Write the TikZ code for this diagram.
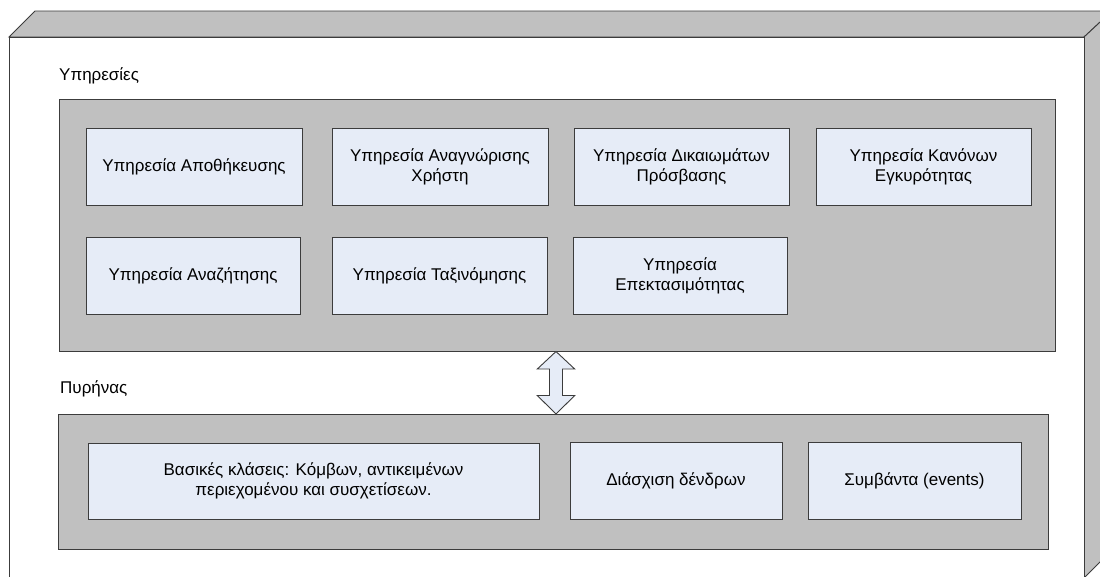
\documentclass[tikz,border=0pt]{standalone}
\usepackage{fontspec}
\setmainfont{Liberation Sans}
\usetikzlibrary{calc}
\definecolor{panelgray}{HTML}{C0C0C0}
\definecolor{boxblue}{HTML}{E6ECF7}
\definecolor{edge}{HTML}{3C3C3C}
\tikzset{
  face/.style={draw=edge, line width=0.9pt, fill=panelgray, line join=miter},
  panel/.style={draw=edge, line width=0.9pt, fill=panelgray, anchor=north west, inner sep=0pt, outer sep=0pt},
  svc/.style={draw=edge, line width=0.9pt, fill=boxblue, anchor=north west, inner sep=0pt, outer sep=0pt,
    align=center, font=\fontsize{17}{20}\selectfont, text=black},
  caption/.style={anchor=base west, inner sep=0pt, font=\fontsize{17}{20}\selectfont},
  dblarrow/.style={draw=edge, line width=0.9pt, fill=boxblue, line join=miter}
}
\begin{document}
\begin{tikzpicture}[x=1pt,y=-1pt]
\useasboundingbox (0,0) rectangle (1100,576);
\begin{scope}
\clip (0,0) rectangle (1100,576);
% 3D frame
\draw[face] (9,37) -- (35,11) -- (1112,11) -- (1084,37) -- cycle;
\draw[face] (1084,37) -- (1112,11) -- (1112,550) -- (1084,578) -- cycle;
\draw[draw=edge, line width=0.9pt, fill=white] (9,37) rectangle (1084,578);
\end{scope}

\node[caption] (lblsvc) at (59,80) {Υπηρεσίες};
\node[caption] (lblcore) at (60,393) {Πυρήνας};

\node[panel, minimum width=996pt, minimum height=252pt] (srv) at (59,99.5) {};
\node[panel, minimum width=990pt, minimum height=135pt] (core) at (58,414) {};

% services
\node[svc, minimum width=216pt, minimum height=77pt] (s1) at (86,128) {Υπηρεσία Αποθήκευσης};
\node[svc, minimum width=216pt, minimum height=77pt] (s2) at (332,128) {Υπηρεσία Αναγνώρισης\\Χρήστη};
\node[svc, minimum width=215pt, minimum height=77pt] (s3) at (574,128) {Υπηρεσία Δικαιωμάτων\\Πρόσβασης};
\node[svc, minimum width=215pt, minimum height=77pt] (s4) at (816,128) {Υπηρεσία Κανόνων\\Εγκυρότητας};
\node[svc, minimum width=214pt, minimum height=77pt] (s5) at (86,237) {Υπηρεσία Αναζήτησης};
\node[svc, minimum width=215pt, minimum height=77pt] (s6) at (332,237) {Υπηρεσία Ταξινόμησης};
\node[svc, minimum width=214pt, minimum height=77pt] (s7) at (573,237) {Υπηρεσία\\Επεκτασιμότητας};

% core
\node[svc, minimum width=451pt, minimum height=76pt] (c1) at (88,443) {Βασικές κλάσεις: Κόμβων, αντικειμένων\\περιεχομένου και συσχετίσεων.};
\node[svc, minimum width=212pt, minimum height=77pt] (c2) at (570,442) {Διάσχιση δένδρων};
\node[svc, minimum width=213pt, minimum height=77pt] (c3) at (808,442) {Συμβάντα (events)};

% double arrow between panels
\coordinate (atop) at (srv.south -| 556,0);
\coordinate (abot) at (core.north -| 556,0);
\draw[dblarrow] (atop) -- ++(18.7,17.5) -- ++(-12.2,0) -- ($(abot)+(6.5,-18.5)$) -- ++(12.2,0)
  -- (abot) -- ++(-18.7,-18.5) -- ++(12.2,0) -- ($(atop)+(-6.5,17.5)$) -- ++(-12.2,0) -- cycle;
\end{tikzpicture}
\end{document}
